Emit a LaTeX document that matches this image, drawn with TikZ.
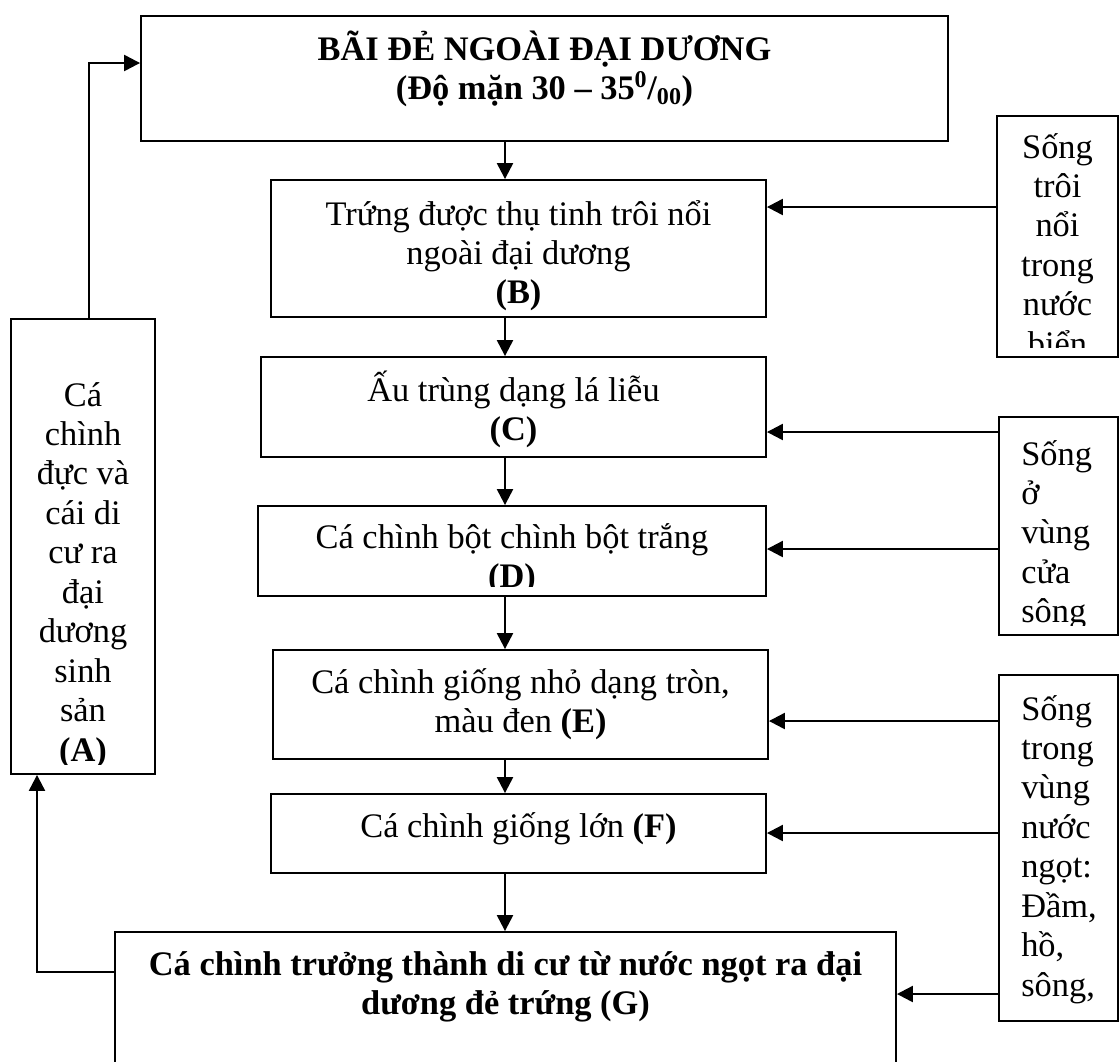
\documentclass[tikz,border=0pt]{standalone}
\usepackage{fontspec}
\setmainfont{Liberation Serif}
\usetikzlibrary{arrows.meta,fit}
\begin{document}
\begin{tikzpicture}[x=0.75pt,y=-0.75pt,
  box/.style={draw, line width=1.4pt, inner sep=0pt},
  tx/.style={inner sep=0pt, anchor=base, font=\fontsize{25.8pt}{29.6pt}\selectfont},
  txl/.style={tx, anchor=base west},
  arr/.style={line width=1.7pt, -{Triangle[length=12pt,width=12pt]}}]
\useasboundingbox (0,0) rectangle (1120,1061);
% boxes
\node[box, fit={(141,16) (948,141)}] (top) {};
\node[box, fit={(271,180) (766,317)}] (B) {};
\node[box, fit={(261,357) (766,457)}] (C) {};
\node[box, fit={(258,506) (766,596)}] (D) {};
\node[box, fit={(273,650) (768,759)}] (E) {};
\node[box, fit={(271,794) (766,873)}] (F) {};
\node[box, fit={(115,932) (896,1090)}] (G) {};
\node[box, fit={(11,319) (155,774)}] (A) {};
\node[box, fit={(997,116) (1118,357)}] (R1) {};
\node[box, fit={(999,417) (1118,635)}] (R2) {};
\node[box, fit={(999,675) (1118,1021)}] (R3) {};
% texts
\node[tx] (ttop) at (544.5,60) {\bfseries\begin{tabular}[t]{@{}c@{}}BÃI ĐẺ NGOÀI ĐẠI DƯƠNG\\(Độ mặn 30 – 35\textsuperscript{0}/\textsubscript{00})\end{tabular}};
\node[tx] (tB) at (518.5,225) {\begin{tabular}[t]{@{}c@{}}Trứng được thụ tinh trôi nổi\\ngoài đại dương\\\textbf{(B)}\end{tabular}};
\node[tx] (tC) at (513.5,401) {\begin{tabular}[t]{@{}c@{}}Ấu trùng dạng lá liễu\\\textbf{(C)}\end{tabular}};
\begin{scope}
\clip (258,506) rectangle (766,586);
\node[tx] (tD) at (512,548) {\begin{tabular}[t]{@{}c@{}}Cá chình bột chình bột trắng\\\textbf{(D)}\end{tabular}};
\end{scope}
\node[tx] (tE) at (520.5,693) {\begin{tabular}[t]{@{}c@{}}Cá chình giống nhỏ dạng tròn,\\màu đen \textbf{(E)}\end{tabular}};
\node[tx] (tF) at (518.5,837) {Cá chình giống lớn \textbf{(F)}};
\node[tx] (tG) at (505.5,975) {\bfseries\begin{tabular}[t]{@{}c@{}}Cá chình trưởng thành di cư từ nước ngọt ra đại\\dương đẻ trứng (G)\end{tabular}};
\begin{scope}
\clip (11,319) rectangle (155,764);
\node[tx] (tA) at (83,406) {\begin{tabular}[t]{@{}c@{}}Cá\\chình\\đực và\\cái di\\cư ra\\đại\\dương\\sinh\\sản\\\textbf{(A)}\end{tabular}};
\end{scope}
\begin{scope}
\clip (997,116) rectangle (1118,347);
\node[tx] (tR1) at (1057.5,158) {\begin{tabular}[t]{@{}c@{}}Sống\\trôi\\nổi\\trong\\nước\\biển\end{tabular}};
\end{scope}
\begin{scope}
\clip (999,417) rectangle (1118,625);
\node[txl] (tR2) at (1021,465) {\begin{tabular}[t]{@{}l@{}}Sống\\ở\\vùng\\cửa\\sông\end{tabular}};
\end{scope}
\begin{scope}
\clip (999,675) rectangle (1118,1011);
\node[txl] (tR3) at (1021,720) {\begin{tabular}[t]{@{}l@{}}Sống\\trong\\vùng\\nước\\ngọt:\\Đầm,\\hồ,\\sông,\end{tabular}};
\end{scope}
% guide coordinates
\coordinate (ax) at (505,0);
\coordinate (xa) at (89,0);
\coordinate (xg) at (37,0);
\coordinate (ytop) at (0,63);
\coordinate (yg) at (0,972);
\coordinate (yB) at (0,207);
\coordinate (yC) at (0,432);
\coordinate (yD) at (0,549);
\coordinate (yE) at (0,721);
\coordinate (yF) at (0,833);
\coordinate (yG) at (0,994);
% vertical chain
\draw[arr] (top.south -| ax) -- (B.north -| ax);
\draw[arr] (B.south -| ax) -- (C.north -| ax);
\draw[arr] (C.south -| ax) -- (D.north -| ax);
\draw[arr] (D.south -| ax) -- (E.north -| ax);
\draw[arr] (E.south -| ax) -- (F.north -| ax);
\draw[arr] (F.south -| ax) -- (G.north -| ax);
% loop
\draw[arr] (A.north -| xa) |- (top.west |- ytop);
\draw[arr] (G.west |- yg) -| (A.south -| xg);
% side arrows
\draw[arr] (R1.west |- yB) -- (B.east |- yB);
\draw[arr] (R2.west |- yC) -- (C.east |- yC);
\draw[arr] (R2.west |- yD) -- (D.east |- yD);
\draw[arr] (R3.west |- yE) -- (E.east |- yE);
\draw[arr] (R3.west |- yF) -- (F.east |- yF);
\draw[arr] (R3.west |- yG) -- (G.east |- yG);
\end{tikzpicture}
\end{document}
